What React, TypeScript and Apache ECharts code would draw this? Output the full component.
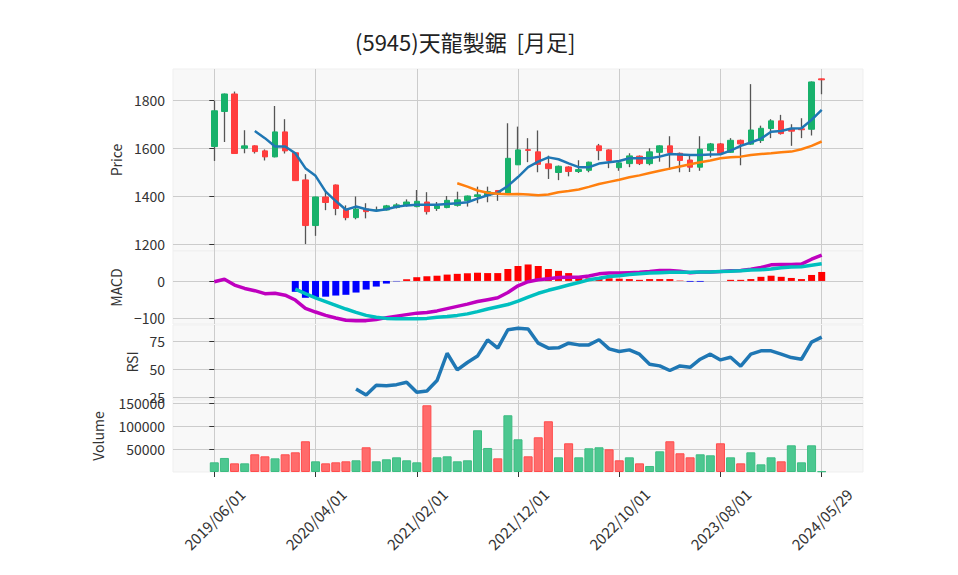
import React, { useEffect, useRef } from "react";
import * as echarts from "echarts";

const dates = [
  "2019/06/01", "2019/07/01", "2019/08/01", "2019/09/01", "2019/10/01", "2019/11/01", "2019/12/01",
  "2020/01/01", "2020/02/01", "2020/03/01", "2020/04/01", "2020/05/01", "2020/06/01", "2020/07/01",
  "2020/08/01", "2020/09/01", "2020/10/01", "2020/11/01", "2020/12/01",
  "2021/01/01", "2021/02/01", "2021/03/01", "2021/04/01", "2021/05/01", "2021/06/01", "2021/07/01",
  "2021/08/01", "2021/09/01", "2021/10/01", "2021/11/01", "2021/12/01",
  "2022/01/01", "2022/02/01", "2022/03/01", "2022/04/01", "2022/05/01", "2022/06/01", "2022/07/01",
  "2022/08/01", "2022/09/01", "2022/10/01", "2022/11/01", "2022/12/01",
  "2023/01/01", "2023/02/01", "2023/03/01", "2023/04/01", "2023/05/01", "2023/06/01", "2023/07/01",
  "2023/08/01", "2023/09/01", "2023/10/01", "2023/11/01", "2023/12/01",
  "2024/01/01", "2024/02/01", "2024/03/01", "2024/04/01", "2024/05/01", "2024/05/29",
];

const opens = [
  1607, 1753, 1826, 1600, 1610, 1589, 1564, 1668, 1581, 1468, 1278, 1397, 1447, 1346, 1311, 1347,
  1340, 1343, 1353, 1362, 1357, 1376, 1349, 1353, 1362, 1382, 1399, 1403, 1424, 1413, 1531, 1594,
  1585, 1535, 1499, 1522, 1503, 1508, 1610, 1593, 1519, 1536, 1567, 1536, 1583, 1610, 1579, 1551,
  1521, 1590, 1618, 1583, 1633, 1617, 1632, 1682, 1714, 1682, 1681, 1679, 1889,
];
const closes = [
  1756, 1826, 1578, 1610, 1586, 1564, 1668, 1589, 1465, 1278, 1397, 1374, 1349, 1311, 1347, 1336,
  1343, 1360, 1364, 1376, 1379, 1336, 1360, 1383, 1385, 1401, 1406, 1419, 1413, 1558, 1593, 1591,
  1533, 1515, 1525, 1503, 1511, 1542, 1590, 1549, 1539, 1568, 1536, 1585, 1610, 1582, 1549, 1521,
  1596, 1618, 1579, 1633, 1618, 1676, 1683, 1714, 1661, 1671, 1677, 1876, 1885,
];
const highs = [
  1797, 1828, 1836, 1675, 1612, 1595, 1776, 1721, 1583, 1492, 1399, 1418, 1449, 1362, 1399, 1371,
  1357, 1364, 1371, 1387, 1426, 1417, 1376, 1401, 1419, 1403, 1440, 1440, 1426, 1704, 1690, 1642,
  1674, 1569, 1528, 1525, 1550, 1544, 1618, 1595, 1542, 1579, 1570, 1600, 1612, 1650, 1582, 1568,
  1650, 1622, 1622, 1642, 1636, 1867, 1694, 1721, 1739, 1700, 1725, 1878, 1890,
];
const lows = [
  1547, 1626, 1578, 1579, 1578, 1549, 1562, 1578, 1465, 1201, 1235, 1342, 1321, 1300, 1304, 1308,
  1335, 1341, 1349, 1357, 1354, 1324, 1339, 1350, 1357, 1357, 1371, 1375, 1381, 1411, 1530, 1542,
  1500, 1472, 1467, 1483, 1497, 1500, 1550, 1517, 1506, 1521, 1530, 1529, 1544, 1510, 1500, 1501,
  1506, 1562, 1572, 1581, 1529, 1614, 1622, 1642, 1657, 1610, 1642, 1653, 1825,
];

const ma5 = [
  null, null, null, null, 1672, 1642, 1607, 1607, 1579, 1517, 1485, 1419, 1380, 1344, 1357, 1346,
  1340, 1346, 1356, 1362, 1365, 1365, 1365, 1368, 1371, 1375, 1390, 1404, 1415, 1443, 1480, 1521,
  1544, 1562, 1554, 1537, 1521, 1521, 1536, 1542, 1547, 1558, 1558, 1558, 1565, 1576, 1574, 1572,
  1572, 1574, 1575, 1590, 1610, 1624, 1640, 1669, 1672, 1682, 1683, 1718, 1760,
];
const ma25 = [
  null, null, null, null, null, null, null, null, null, null, null, null, null, null, null, null,
  null, null, null, null, null, null, null, null, 1454, 1440, 1424, 1415, 1410, 1408, 1409, 1407,
  1404, 1407, 1417, 1422, 1428, 1439, 1451, 1460, 1469, 1479, 1487, 1497, 1506, 1515, 1524, 1533,
  1542, 1549, 1558, 1562, 1565, 1572, 1576, 1579, 1583, 1586, 1596, 1610, 1628,
];

const macd = [
  -2, 4.5, -11, -20, -26, -34, -33, -38, -51, -73, -83, -92, -99, -105, -106, -106,
  -103, -98, -94, -90, -86, -84, -80, -74, -68, -62, -55, -50, -45, -31, -13, -2,
  3, 6, 9, 10, 10, 13, 19, 21, 21, 22, 23, 25, 28, 28, 26, 22,
  24, 24, 25, 27, 28, 31, 36, 43, 44, 44, 45, 58, 69,
];
const signal = [
  null, null, null, null, null, null, null, null, -22, -34, -45, -55, -65, -75, -84, -92,
  -97, -100, -101, -101, -101, -100, -97, -95, -92, -88, -82, -75, -69, -63, -54, -43,
  -33, -25, -18, -11, -4, 3, 7, 12, 14, 17, 19, 21, 22, 23, 23, 23,
  24, 24, 25, 26, 27, 29, 30, 32, 35, 37, 38, 42, 46,
];
const hist = [
  null, null, null, null, null, null, null, null, -29, -45, -43, -42, -39, -37, -31, -23,
  -15, -7, -1, 4.5, 10, 12.5, 14, 17, 19, 20.5, 22, 21, 21, 32, 40, 44,
  40, 32, 27, 21, 9, 7, 9, 7, 6, 5, 3, 5, 5, 5, 1, -2,
  -2, 0, 0, 3, 3, 5, 11, 14, 11, 8, 5, 16, 24,
];
const rsi = [
  null, null, null, null, null, null, null, null, null, null, null, null, null, null, 32.4, 27,
  35.6, 35.3, 36.2, 38.3, 29.4, 30.6, 39.8, 64, 49.2, 55.8, 61.5, 75.9, 68.5, 84.8, 86.2, 85.4,
  72.9, 68.5, 68.8, 72.9, 71.4, 71.4, 75.9, 67.9, 65.5, 67, 63.2, 54.3, 52.8, 48.7, 52.8, 51.6,
  58.7, 63.2, 58.1, 60.5, 52.5, 63.2, 66.1, 66.1, 63.2, 60.2, 58.7, 73.8, 78.3,
];
const volume = [
  21100, 30600, 18900, 18900, 38600, 34200, 29800, 38600, 42900, 67000, 23300, 18900, 21100, 23300, 25500, 53900,
  23300, 27700, 32000, 25500, 21100, 145500, 32000, 34200, 23300, 25500, 91000, 52400, 29800, 123700, 71300, 34200,
  75700, 110600, 32000, 62600, 32000, 51700, 53900, 49500, 25500, 32000, 18900, 13100, 45100, 67000, 40800, 32000,
  38600, 36400, 62600, 32000, 18900, 42900, 16700, 32000, 23300, 58200, 21100, 58200, 1500,
];
const volUp = [
  1, 1, 0, 1, 0, 0, 1, 0, 0, 0, 1, 0, 0, 0, 1, 0,
  1, 1, 1, 1, 1, 0, 1, 1, 1, 1, 1, 1, 0, 1, 1, 0,
  0, 0, 1, 0, 1, 1, 1, 0, 0, 1, 0, 1, 1, 0, 0, 0,
  1, 1, 0, 1, 0, 1, 1, 1, 0, 1, 1, 1, 1,
];

const dateTicks = [0, 10, 20, 30, 40, 50, 60];
const priceTicks = [1200, 1400, 1600, 1800];
const macdTicks = [-100, 0];
const rsiTicks = [25, 50, 75];
const volTicks = [50000, 100000, 150000];

const UP = "#18b16b";
const DOWN = "#ff3d3d";
const WICK = "#555555";
const FONT = '"Noto Sans CJK JP", "Noto Sans", sans-serif';
const GRID = "#cccccc";
const TXT = "#333333";

const pts = (arr: (number | null)[]) =>
  arr.map((v, i) => (v == null ? null : [i, v])).filter((p) => p !== null);

const minus = (v: number) => (v < 0 ? "\u2212" + Math.abs(v) : String(v));

export default function App() {
  const ref = useRef<HTMLDivElement>(null);
  useEffect(() => {
    if (!ref.current) return;
    const chart = echarts.init(ref.current, undefined, { renderer: "svg" });
    const tops = [69, 251, 325, 400];
    const heights = [182, 73, 74, 72];
    const grids = tops.map((t, k) => ({
      left: 173,
      width: 690,
      top: t,
      height: heights[k],
      show: true,
      backgroundColor: "#f8f8f8",
      borderColor: "#efefef",
      borderWidth: 1,
    }));
    const xAxes = tops.map((_, k) => ({
      type: "value",
      gridIndex: k,
      min: -4.08,
      max: 64.08,
      axisLine: { show: false },
      axisTick: { show: k === 3, customValues: dateTicks, length: 5, lineStyle: { color: TXT } },
      axisLabel: {
        show: k === 3,
        customValues: dateTicks,
        formatter: (v: number) => dates[Math.round(v)] ?? "",
        rotate: 45,
        align: "center",
        verticalAlign: "middle",
        margin: 47,
        fontSize: 15,
        color: TXT,
        fontFamily: FONT,
      },
      splitLine: { show: true, lineStyle: { color: GRID, width: 1 } },
    }));
    const yDefs = [
      { name: "Price", min: 1172, max: 1930, ticks: priceTicks, gap: 49 },
      { name: "MACD", min: -115, max: 80, ticks: macdTicks, gap: 49 },
      { name: "RSI", min: 23.5, max: 89, ticks: rsiTicks, gap: 32 },
      { name: "Volume", min: 0, max: 157000, ticks: volTicks, gap: 68 },
    ];
    const yAxes = yDefs.map((d, k) => ({
      type: "value",
      gridIndex: k,
      min: d.min,
      max: d.max,
      name: d.name,
      nameLocation: "middle",
      nameRotate: 90,
      nameGap: d.gap,
      nameTextStyle: { fontSize: 14, color: TXT, fontFamily: FONT },
      axisLine: { show: false },
      axisTick: { show: true, customValues: d.ticks, length: 5, lineStyle: { color: TXT } },
      axisLabel: {
        customValues: d.ticks,
        formatter: (v: number) => minus(v),
        fontSize: 14,
        color: TXT,
        margin: 8,
        fontFamily: FONT,
      },
      splitLine: { show: true, lineStyle: { color: GRID, width: 1 } },
    }));

    const wickData = lows.map((l, i) => [i, l, highs[i], l, highs[i]]);
    const bodyData = opens.map((o, i) => [
      i,
      o,
      closes[i],
      Math.min(o, closes[i]),
      Math.max(o, closes[i]),
    ]);
    const histData = hist
      .map((v, i) =>
        v == null || v === 0
          ? null
          : { value: [i, v], itemStyle: { color: v < 0 ? "#0000ff" : "#ff0000" } }
      )
      .filter((p) => p !== null);
    const volData = volume.map((v, i) => ({
      value: [i, v],
      itemStyle: {
        color: volUp[i] ? "#4cc790" : "#ff6b6b",
        borderColor: volUp[i] ? "#3dbd82" : "#ff4c4c",
        borderWidth: 1,
      },
    }));

    chart.setOption({
      animation: false,
      textStyle: { fontFamily: FONT },
      title: {
        text: "(5945)天龍製鋸  [月足]",
        left: 355,
        top: 30,
        padding: 0,
        textStyle: { fontSize: 22, fontWeight: "normal", color: "#222", fontFamily: FONT },
      },
      grid: grids,
      xAxis: xAxes,
      yAxis: yAxes,
      series: [
        {
          type: "candlestick",
          xAxisIndex: 0,
          yAxisIndex: 0,
          data: wickData,
          barWidth: 0.5,
          z: 2,
          itemStyle: {
            color: WICK,
            color0: WICK,
            borderColor: WICK,
            borderColor0: WICK,
            borderWidth: 1.3,
          },
        },
        {
          type: "candlestick",
          xAxisIndex: 0,
          yAxisIndex: 0,
          data: bodyData,
          barWidth: 6,
          z: 3,
          itemStyle: {
            color: UP,
            color0: DOWN,
            borderColor: UP,
            borderColor0: DOWN,
            borderWidth: 1,
          },
        },
        {
          type: "line",
          xAxisIndex: 0,
          yAxisIndex: 0,
          data: pts(ma5),
          symbol: "none",
          z: 4,
          lineStyle: { color: "#1f77b4", width: 2.5 },
        },
        {
          type: "line",
          xAxisIndex: 0,
          yAxisIndex: 0,
          data: pts(ma25),
          symbol: "none",
          z: 4,
          lineStyle: { color: "#ff7f0e", width: 2.5 },
        },
        {
          type: "bar",
          xAxisIndex: 1,
          yAxisIndex: 1,
          data: histData,
          barWidth: 7,
          z: 2,
        },
        {
          type: "line",
          xAxisIndex: 1,
          yAxisIndex: 1,
          data: pts(macd),
          symbol: "none",
          z: 4,
          lineStyle: { color: "#bf00bf", width: 3.5 },
        },
        {
          type: "line",
          xAxisIndex: 1,
          yAxisIndex: 1,
          data: pts(signal),
          symbol: "none",
          z: 4,
          lineStyle: { color: "#00bfbf", width: 3.5 },
        },
        {
          type: "line",
          xAxisIndex: 2,
          yAxisIndex: 2,
          data: pts(rsi),
          symbol: "none",
          z: 4,
          lineStyle: { color: "#1f77b4", width: 3.5 },
        },
        {
          type: "bar",
          xAxisIndex: 3,
          yAxisIndex: 3,
          data: volData,
          barWidth: 9,
          z: 2,
        },
      ],
    });
    return () => chart.dispose();
  }, []);
  return (
    <div
      ref={ref}
      style={{ position: "fixed", left: 0, top: 0, width: 958, height: 575, background: "#fff" }}
    />
  );
}
